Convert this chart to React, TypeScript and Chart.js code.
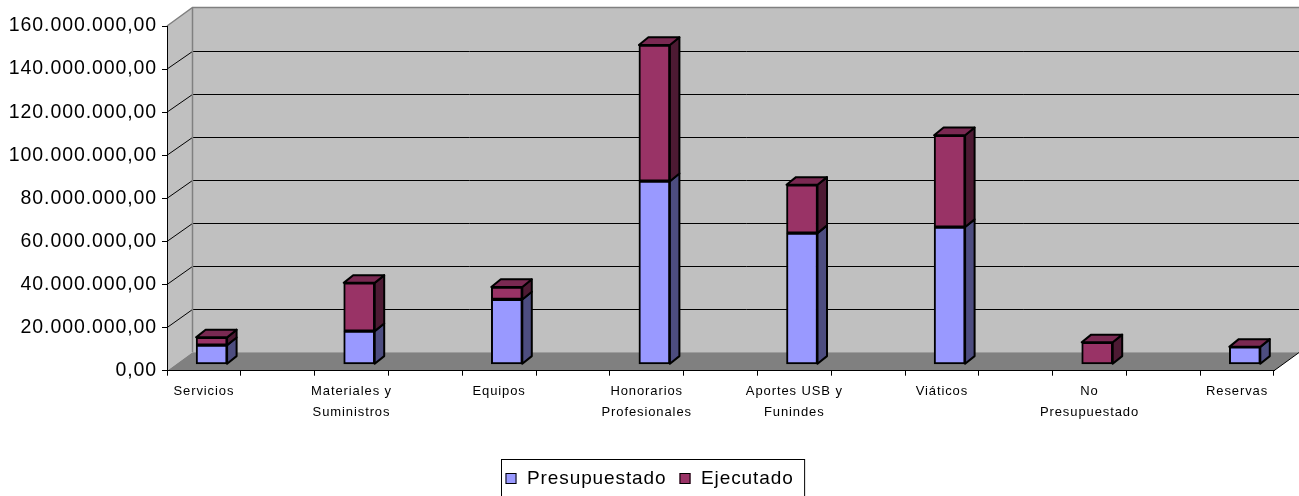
import React, { useEffect, useRef } from 'react';
import { Chart, registerables } from 'chart.js';

Chart.register(...registerables);

// ---- data ----
const categories: (string | string[])[] = [
  'Servicios',
  ['Materiales y', 'Suministros'],
  'Equipos',
  ['Honorarios', 'Profesionales'],
  ['Aportes USB y', 'Funindes'],
  'Viáticos',
  ['No', 'Presupuestado'],
  'Reservas',
];
const presupuestado = [8900000, 15400000, 30100000, 85000000, 60900000, 63700000, 0, 8100000];
const ejecutado = [3600000, 22400000, 5800000, 63200000, 22400000, 42600000, 10200000, 0];
const seriesNames = ['Presupuestado', 'Ejecutado'];
const yMin = 0;
const yMax = 160000000;
const yStep = 20000000;

// ---- style ----
const FRONT = ['#9999ff', '#993366'];
const SIDE = ['#4d4d80', '#4d1a33'];
const TOP = '#7a2952';
const DX = 25.5, DY = -18.5; // wall depth
const BX = 7.7, BY = -6.4; // bar offset inside the depth
const SX = 9.5, SY = -7.7; // bar depth

// blank slots between the categories (as in the source chart)
const slots: (string | string[])[] = categories.flatMap((c, i) => (i < categories.length - 1 ? [c, ''] : [c]));
const spread = (arr: number[]) => arr.flatMap((v, i) => (i < arr.length - 1 ? [v, null] : [v]));

const fmt = (v: number) => Math.round(v).toString().replace(/\B(?=(\d{3})+(?!\d))/g, '.') + ',00';

const threeD = {
  id: 'threeD',
  beforeDraw(chart: any) {
    const ctx = chart.ctx as CanvasRenderingContext2D;
    (ctx as any).letterSpacing = '0.9px';
    const a = chart.chartArea;
    const y = chart.scales.y;
    ctx.save();
    // back wall
    ctx.fillStyle = '#c0c0c0';
    ctx.fillRect(a.left + DX, a.top + DY, a.right - a.left + 2, a.bottom - a.top);
    // left wall
    ctx.beginPath();
    ctx.moveTo(a.left, a.top);
    ctx.lineTo(a.left + DX, a.top + DY);
    ctx.lineTo(a.left + DX, a.bottom + DY);
    ctx.lineTo(a.left, a.bottom);
    ctx.closePath();
    ctx.fill();
    // floor
    ctx.fillStyle = '#808080';
    ctx.beginPath();
    ctx.moveTo(a.left, a.bottom);
    ctx.lineTo(a.left + DX, a.bottom + DY);
    ctx.lineTo(a.right + DX, a.bottom + DY);
    ctx.lineTo(a.right, a.bottom);
    ctx.closePath();
    ctx.fill();
    // gridlines
    ctx.strokeStyle = '#000';
    ctx.lineWidth = 1;
    y.ticks.forEach((t: any) => {
      if (t.value <= y.min || t.value >= y.max) return;
      const py = y.getPixelForValue(t.value);
      const by = Math.round(py + DY) + 0.5;
      ctx.beginPath();
      ctx.moveTo(a.left, py);
      ctx.lineTo(a.left + DX, by);
      ctx.lineTo(a.right + DX + 2, by);
      ctx.stroke();
    });
    // wall outlines
    ctx.strokeStyle = '#808080';
    ctx.lineWidth = 1.5;
    ctx.beginPath();
    ctx.moveTo(a.left, a.top);
    ctx.lineTo(a.left + DX, a.top + DY);
    ctx.lineTo(a.right + DX + 2, a.top + DY);
    ctx.moveTo(a.left + DX, a.top + DY);
    ctx.lineTo(a.left + DX, a.bottom + DY);
    ctx.stroke();
    // floor right edge
    ctx.strokeStyle = '#000';
    ctx.lineWidth = 1;
    ctx.beginPath();
    ctx.moveTo(a.right, a.bottom);
    ctx.lineTo(a.right + DX, a.bottom + DY);
    ctx.stroke();
    ctx.restore();
  },
  beforeDatasetsDraw(chart: any) {
    chart.ctx.save();
    chart.ctx.translate(BX, BY);
  },
  afterDatasetsDraw(chart: any) {
    const ctx = chart.ctx as CanvasRenderingContext2D;
    ctx.lineWidth = 2;
    ctx.strokeStyle = '#000';
    ctx.lineJoin = 'round';
    const n = chart.data.labels.length;
    for (let i = 0; i < n; i++) {
      let topY: number | null = null;
      let left = 0, right = 0;
      chart.data.datasets.forEach((ds: any, d: number) => {
        const v = ds.data[i];
        const el = chart.getDatasetMeta(d).data[i];
        if (v == null || !el) return;
        const { x, y, base, width } = el.getProps(['x', 'y', 'base', 'width'], true);
        left = x - width / 2;
        right = x + width / 2;
        const t = Math.min(y, base);
        const b = Math.max(y, base);
        if (topY === null || t < topY) topY = t;
        if (b - t > 0.5) {
          ctx.beginPath();
          ctx.moveTo(right, t);
          ctx.lineTo(right + SX, t + SY);
          ctx.lineTo(right + SX, b + SY);
          ctx.lineTo(right, b);
          ctx.closePath();
          ctx.fillStyle = SIDE[d];
          ctx.fill();
          ctx.stroke();
        }
      });
      if (topY !== null) {
        const ty = topY as number;
        ctx.beginPath();
        ctx.moveTo(left, ty);
        ctx.lineTo(left + SX, ty + SY);
        ctx.lineTo(right + SX, ty + SY);
        ctx.lineTo(right, ty);
        ctx.closePath();
        ctx.fillStyle = TOP;
        ctx.fill();
        ctx.stroke();
      }
    }
    ctx.restore();
  },
  afterDraw(chart: any) {
    const ctx = chart.ctx as CanvasRenderingContext2D;
    ctx.save();
    ctx.font = '19px "Liberation Sans", Arial, sans-serif';
    (ctx as any).letterSpacing = '0.9px';
    ctx.textBaseline = 'middle';
    ctx.textAlign = 'left';
    const boxL = 501.5, boxT = 459.5;
    const cy = 479;
    let x = boxL + 4;
    chart.data.datasets.forEach((ds: any) => {
      ctx.fillStyle = ds.backgroundColor;
      ctx.fillRect(x, cy - 6, 11, 11);
      ctx.strokeStyle = '#000';
      ctx.lineWidth = 1;
      ctx.strokeRect(x + 0.5, cy - 5.5, 10, 10);
      ctx.fillStyle = '#000';
      ctx.fillText(ds.label, x + 21.5, cy);
      x += 21.5 + ctx.measureText(ds.label).width + 13;
    });
    ctx.strokeStyle = '#000';
    ctx.lineWidth = 1;
    ctx.strokeRect(boxL, boxT, x - boxL - 2, 60);
    ctx.restore();
  },
};

export default function App() {
  const ref = useRef<HTMLCanvasElement>(null);
  useEffect(() => {
    document.body.style.margin = '0';
    const canvas = ref.current;
    if (!canvas) return;
    const chart = new Chart(canvas, {
      type: 'bar',
      data: {
        labels: slots as any,
        datasets: [
          {
            label: seriesNames[0],
            data: spread(presupuestado) as any,
            backgroundColor: FRONT[0],
            borderColor: '#000',
            borderWidth: 2,
            borderSkipped: false,
            barThickness: 31,
            clip: false as any,
          },
          {
            label: seriesNames[1],
            data: spread(ejecutado) as any,
            backgroundColor: FRONT[1],
            borderColor: '#000',
            borderWidth: 2,
            borderSkipped: false,
            barThickness: 31,
            clip: false as any,
          },
        ],
      },
      options: {
        animation: false,
        responsive: false,
        events: [],
        layout: { padding: { top: 26, left: 0, right: 25, bottom: 0 } },
        plugins: { legend: { display: false }, tooltip: { enabled: false } },
        scales: {
          x: {
            stacked: true,
            offset: true,
            grid: { offset: true, drawOnChartArea: false, color: 'transparent', tickColor: '#000', tickLength: 5 },
            border: { display: true, color: '#000', width: 1 },
            ticks: {
              autoSkip: false,
              maxRotation: 0,
              minRotation: 0,
              padding: 5,
              color: '#000',
              font: { family: '"Liberation Sans", Arial, sans-serif', size: 13, lineHeight: 1.65 },
            },
            afterFit: (s: any) => { s.height = 125.3; },
          },
          y: {
            stacked: true,
            min: yMin,
            max: yMax,
            grid: { drawOnChartArea: false, color: 'transparent', tickColor: '#000', tickLength: 5 },
            border: { display: true, color: '#000', width: 1 },
            ticks: {
              stepSize: yStep,
              padding: 5,
              color: '#000',
              font: { family: '"Liberation Sans", Arial, sans-serif', size: 19.5 },
              callback: (v: any) => fmt(Number(v)),
            },
            afterFit: (s: any) => { s.width = 167; },
          },
        },
      },
      plugins: [threeD],
    });
    return () => chart.destroy();
  }, []);
  return (
    <div style={{ width: 1299, height: 496 }}>
      <canvas ref={ref} width={1299} height={496} />
    </div>
  );
}
